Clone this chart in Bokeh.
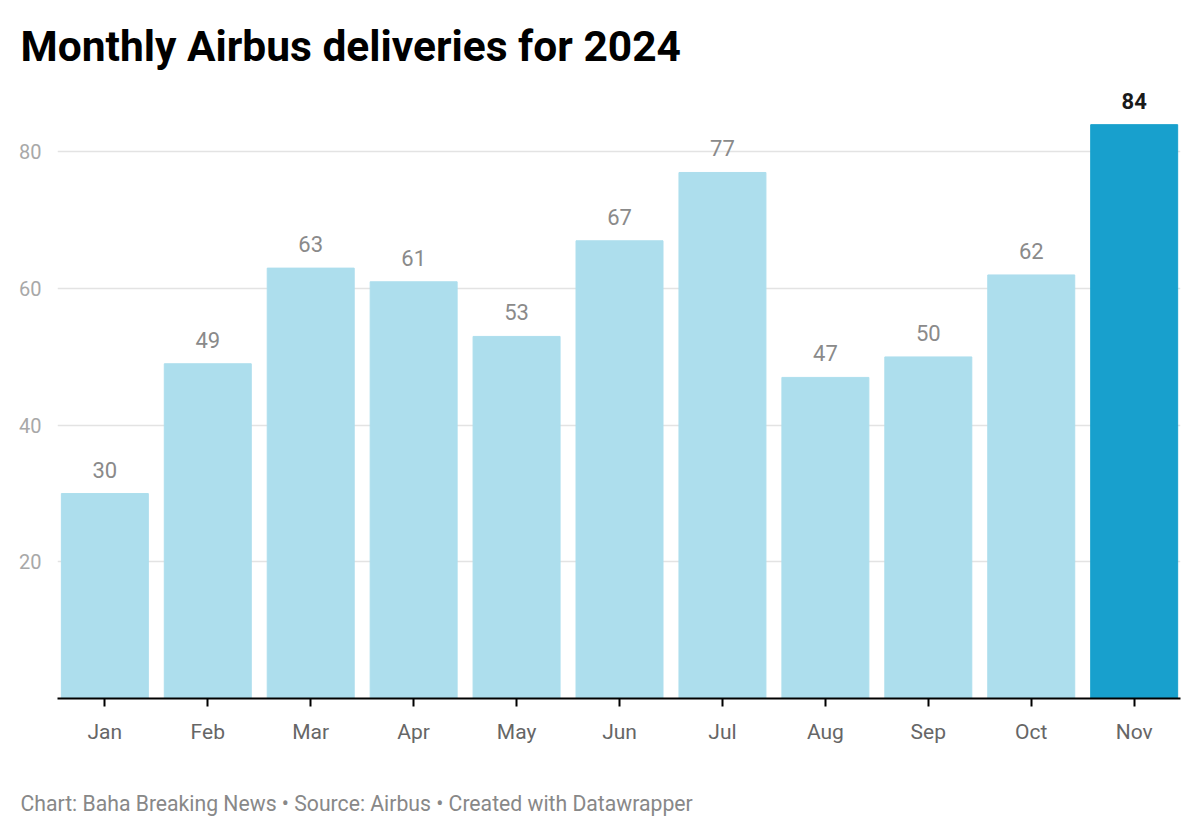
from bokeh.plotting import figure
from bokeh.layouts import column
from bokeh.models import ColumnDataSource, Range1d, FixedTicker, LabelSet, Title
from bokeh.core.properties import value
from bokeh.embed import file_html
from bokeh.resources import INLINE

months = ["Jan", "Feb", "Mar", "Apr", "May", "Jun", "Jul", "Aug", "Sep", "Oct", "Nov"]
deliveries = [30, 49, 63, 61, 53, 67, 77, 47, 50, 62, 84]
y_ticks = [20, 40, 60, 80]
title_text = "Monthly Airbus deliveries for 2024"
footer_text = "Chart: Baha Breaking News \u2022 Source: Airbus \u2022 Created with Datawrapper"

LIGHT = "#addeed"
DARK = "#18a0cd"
FONT = "Roboto"

n = len(months)
xs = list(range(n))
colors = [DARK if i == n - 1 else LIGHT for i in xs]
labels = [str(v) for v in deliveries]
src = ColumnDataSource(dict(x=xs, top=deliveries, color=colors, label=labels))
src_last = ColumnDataSource(dict(x=[xs[-1]], top=[deliveries[-1]], label=[labels[-1]]))
src_rest = ColumnDataSource(dict(x=xs[:-1], top=deliveries[:-1], label=labels[:-1]))

p = figure(width=1192, height=788, output_backend="svg", toolbar_location=None,
           x_range=Range1d(-0.46, 10.45), y_range=Range1d(0, 89),
           min_border_left=57, min_border_right=12, min_border_top=90, min_border_bottom=90)
p.outline_line_color = None
p.background_fill_color = "white"
p.border_fill_color = "white"

p.vbar(x="x", top="top", width=0.845, bottom=0, color="color", source=src)

# axes
xa = p.xaxis[0]
xa.ticker = FixedTicker(ticks=xs)
xa.major_label_overrides = {i: m for i, m in zip(xs, months)}
xa.axis_line_color = "#000000"
xa.axis_line_width = 2
xa.major_tick_line_color = "#000000"
xa.major_tick_line_width = 2
xa.major_tick_in = 0
xa.major_tick_out = 8
xa.minor_tick_line_color = None
xa.major_label_standoff = 13
xa.major_label_text_font = FONT
xa.major_label_text_font_size = "21px"
xa.major_label_text_color = "#666666"

ya = p.yaxis[0]
ya.ticker = FixedTicker(ticks=y_ticks)
ya.axis_line_color = None
ya.major_tick_line_color = None
ya.minor_tick_line_color = None
ya.major_label_standoff = 10
ya.major_label_text_font = FONT
ya.major_label_text_font_size = "20px"
ya.major_label_text_color = "#a8a8a8"

p.xgrid.grid_line_color = None
p.ygrid.grid_line_color = "#e3e3e3"
p.ygrid.grid_line_width = 1.5
p.ygrid.ticker = FixedTicker(ticks=y_ticks)

# value labels
p.add_layout(LabelSet(x="x", y="top", text="label", source=src_rest, y_offset=16,
                      text_align="center", text_baseline="alphabetic",
                      text_font=value(FONT), text_font_size=value("22px"),
                      text_color=value("#8a8a8a")))
p.add_layout(LabelSet(x="x", y="top", text="label", source=src_last, y_offset=16,
                      text_align="center", text_baseline="alphabetic",
                      text_font=value(FONT), text_font_size=value("22px"),
                      text_font_style=value("bold"), text_color=value("#1a1a1a")))

# title
p.title = Title(text=title_text, align="left", offset=-37, standoff=39,
                text_font=FONT, text_font_size="42.5px", text_font_style="bold",
                text_color="#000000")

# footer strip (same side borders as the chart so that it lines up)
f = figure(width=1192, height=46, output_backend="svg", toolbar_location=None,
           x_range=Range1d(0, 1), y_range=Range1d(0, 1),
           x_axis_type=None, y_axis_type=None,
           min_border_left=57, min_border_right=12, min_border_top=0, min_border_bottom=0)
f.outline_line_color = None
f.grid.visible = False
f.background_fill_color = "white"
f.border_fill_color = "white"
f.title = Title(text=footer_text, align="left", offset=-37, standoff=0,
                text_font=FONT, text_font_size="21.2px", text_font_style="normal",
                text_color="#888888")

layout = column(p, f, spacing=0)
open("out.html", "w").write(file_html(layout, INLINE))
